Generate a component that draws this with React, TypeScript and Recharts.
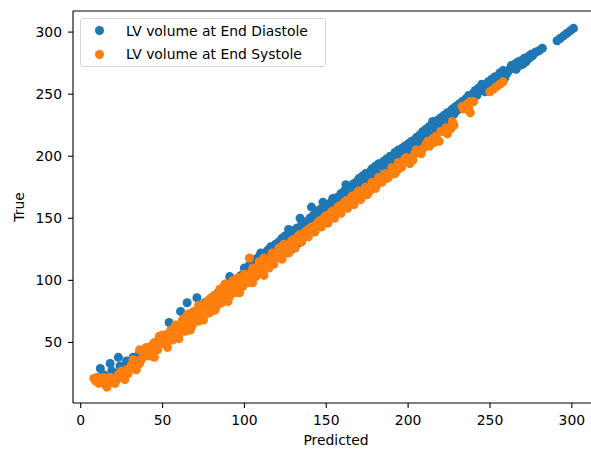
import { Legend, ReferenceLine, Scatter, ScatterChart, XAxis, YAxis, ZAxis } from "recharts";

const FONT = "DejaVu Sans";

const seriesNames = ["LV volume at End Diastole", "LV volume at End Systole"];
const seriesColors = ["#1f77b4", "#ff7f0e"];

const xTicks = [0, 50, 100, 150, 200, 250, 300];
const yTicks = [50, 100, 150, 200, 250, 300];
const xDomain = [-4.7, 316.6];
const yDomain = [1.2, 317];

// [predicted, true]
const diastolePoints: [number, number][] = [
  [12, 29], [14, 24], [16, 22], [18, 33], [19, 27], [21, 25], [23, 38], [24, 31], [26, 29], [28, 35],
  [30, 33], [32, 38], [34, 36], [36, 42], [38, 40], [40, 45], [42, 43], [44, 48], [46, 47], [48, 52],
  [50, 51], [52, 56], [54, 66], [55, 58], [57, 60], [59, 63], [61, 75], [62, 65], [64, 68], [65, 82],
  [66, 70], [68, 72], [70, 75], [71, 86], [72, 77], [74, 80], [76, 82], [78, 83], [80, 86], [82, 88],
  [84, 90], [86, 92], [88, 95], [90, 97], [91, 103], [92, 99], [94, 100], [96, 101], [98, 104], [100, 106],
  [102, 108], [104, 110], [106, 112], [108, 114], [110, 122], [111, 116], [113, 118], [115, 120], [116, 127], [118, 124],
  [120, 125], [122, 129], [124, 130], [126, 122], [127, 141], [128, 132], [130, 134], [131, 127], [133, 137], [134, 150],
  [136, 140], [137, 144], [139, 146], [141, 159], [143, 148], [145, 150], [147, 153], [148, 163], [150, 155], [152, 157],
  [154, 166], [156, 160], [158, 162], [160, 164], [162, 177], [164, 168], [166, 170], [169, 180], [171, 176], [173, 178],
  [175, 181], [177, 188], [179, 184], [181, 186], [184, 192], [186, 190], [188, 193], [191, 198], [193, 196], [195, 200],
  [197, 207], [199, 203], [201, 205], [204, 210], [206, 211], [208, 213], [210, 218], [212, 216], [215, 228], [217, 222],
  [219, 225], [221, 227], [223, 230], [226, 236], [228, 234], [230, 237], [232, 240], [234, 242], [236, 245], [238, 247],
  [240, 251], [242, 249], [244, 253], [246, 254], [248, 257], [250, 256], [252, 259], [255, 262], [257, 265], [259, 263],
  [261, 268], [264, 271], [266, 270], [268, 273], [270, 274], [272, 276], [274, 279], [276, 281], [277, 283], [280, 285],
  [282, 287], [291, 293], [293, 295], [295, 297], [297, 299], [299, 301], [301, 303],
  [100, 110], [103, 112], [105, 115], [107, 117], [109, 119], [112, 121], [114, 124], [117, 126], [119, 129], [121, 131],
  [123, 134], [125, 136], [126, 128], [128, 138], [129, 125], [130, 140], [132, 142], [133, 130], [135, 145], [137, 147],
  [138, 136], [140, 150], [142, 152], [144, 155], [146, 157], [147, 145], [149, 159], [151, 161], [153, 163], [155, 165],
  [157, 167], [159, 170], [161, 172], [163, 174], [165, 176], [167, 178], [168, 173], [170, 182], [172, 184], [174, 186],
  [176, 184], [178, 190], [180, 192], [182, 194], [185, 196], [187, 198], [189, 200], [190, 191], [192, 203], [194, 205],
  [196, 206], [198, 208], [200, 210], [202, 212], [203, 206], [205, 215], [207, 217], [209, 220], [211, 222], [213, 224],
  [214, 217], [216, 226], [218, 229], [220, 231], [222, 233], [224, 235], [225, 229], [227, 238], [229, 240], [231, 242],
  [233, 244], [235, 246], [237, 249], [239, 245], [241, 253], [243, 255], [245, 258], [247, 252], [249, 260], [251, 262],
  [253, 264], [254, 258], [256, 267], [258, 269], [260, 266], [262, 270], [263, 273], [265, 274], [267, 276], [269, 277],
  [271, 279], [273, 280], [275, 282], [278, 284],
];

const systolePoints: [number, number][] = [
  [8, 21], [9, 19], [10, 22], [12, 20], [13, 18], [15, 16], [16, 14], [17, 19], [18, 22], [19, 18],
  [20, 21], [22, 20], [23, 24], [24, 22], [26, 26], [27, 24], [28, 28], [30, 29], [31, 32], [33, 31],
  [34, 35], [35, 33], [36, 44], [37, 36], [38, 38], [40, 46], [41, 40], [42, 42], [43, 47], [44, 44],
  [46, 45], [47, 49], [48, 55], [49, 50], [50, 52], [51, 49], [53, 54], [54, 57], [55, 53], [57, 58],
  [58, 61], [59, 57], [61, 62], [62, 60], [63, 66], [64, 63], [65, 72], [66, 67], [67, 64], [68, 70],
  [70, 71], [71, 68], [72, 80], [73, 74], [74, 72], [75, 78], [76, 81], [77, 76], [78, 79], [79, 85],
  [80, 82], [81, 78], [82, 88], [83, 84], [84, 81], [85, 90], [86, 87], [87, 85], [88, 97], [89, 91],
  [90, 88], [91, 96], [92, 94], [93, 91], [94, 98], [95, 95], [97, 100], [98, 96], [100, 99], [101, 103],
  [102, 98], [103, 118], [104, 106], [106, 104], [107, 109], [108, 106], [110, 112], [111, 110], [113, 115], [114, 112],
  [116, 118], [117, 116], [119, 121], [120, 118], [122, 124], [123, 121], [125, 127], [126, 124], [128, 130], [130, 133],
  [132, 131], [134, 137], [136, 135], [138, 140], [140, 142], [142, 141], [144, 145], [146, 148], [148, 147], [150, 152],
  [152, 150], [154, 156], [156, 155], [158, 160], [160, 158], [162, 164], [164, 162], [166, 168], [168, 166], [170, 172],
  [172, 169], [175, 169], [177, 175], [179, 178], [181, 177], [183, 181], [185, 184], [187, 182], [189, 186], [191, 190],
  [193, 188], [195, 194], [198, 198], [200, 196], [203, 197], [204, 202], [207, 204], [209, 206], [211, 210], [213, 208],
  [215, 214], [217, 216], [219, 212], [222, 220], [224, 218], [226, 222], [227, 228], [233, 240], [236, 242], [238, 235],
  [238, 244], [240, 244], [250, 252], [252, 254], [254, 256], [256, 258], [258, 260],
  [11, 17], [14, 22], [21, 17], [25, 27], [29, 25], [32, 36], [36, 33], [39, 43], [42, 39], [45, 50],
  [47, 44], [50, 56], [52, 48], [55, 60], [56, 52], [58, 64], [60, 57], [62, 68], [64, 59], [66, 73],
  [68, 63], [69, 75], [72, 67], [74, 79], [76, 72], [78, 84], [79, 74], [81, 87], [83, 79], [85, 93],
  [86, 82], [88, 90], [89, 97], [91, 87], [93, 100], [95, 90], [96, 102], [99, 95], [100, 105], [103, 100],
  [105, 110], [107, 103], [109, 115], [111, 106], [112, 118], [115, 110], [117, 122], [118, 113], [121, 126], [123, 117],
  [124, 129], [127, 122], [129, 132], [131, 126], [133, 136], [135, 131], [137, 139], [139, 135], [141, 143], [143, 139],
  [145, 147], [147, 143], [149, 151], [151, 146], [153, 155], [155, 150], [157, 159], [159, 154], [161, 163], [163, 158],
  [165, 167], [167, 161], [169, 171], [171, 165], [174, 175], [176, 171], [178, 179], [180, 174], [182, 183], [184, 179],
  [186, 186], [188, 183], [190, 191], [192, 186], [194, 195], [196, 191], [199, 199], [201, 194], [205, 205], [208, 202],
  [212, 212], [216, 211], [220, 220], [223, 223], [228, 225], [234, 238], [237, 239],
  [27, 20], [34, 28], [45, 38], [53, 46], [60, 53], [67, 60], [75, 68], [82, 76], [90, 83], [97, 90],
  [105, 98], [112, 104],
];

const toRows = (pts: [number, number][]) => pts.map(([x, y]) => ({ x, y }));

const tickStyle = { fontSize: 13.9, fontFamily: FONT, fill: "#000" };
const lineStyle = { stroke: "#000", strokeWidth: 1.1 };

function LegendBox() {
  return (
    <div
      style={{
        width: 246,
        height: 49,
        boxSizing: "border-box",
        border: "1px solid #d6d6d6",
        borderRadius: 3,
        background: "rgba(255,255,255,0.8)",
        position: "relative",
        fontFamily: FONT,
        fontSize: 13.9,
        color: "#000",
      }}
    >
      {seriesNames.map((name, i) => (
        <div
          key={name}
          style={{ position: "absolute", left: 0, top: 1.7 + i * 23.3, height: 20, display: "flex", alignItems: "center", whiteSpace: "nowrap" }}
        >
          <span
            style={{ display: "inline-block", width: 9, height: 9, borderRadius: "50%", background: seriesColors[i], marginLeft: 14, marginRight: 22 }}
          />
          <span>{name}</span>
        </div>
      ))}
    </div>
  );
}

function YTitle(props: any) {
  const vb = props.viewBox;
  const cx = 18.5;
  const cy = vb ? vb.y + vb.height / 2 : 207;
  return (
    <text x={cx} y={cy} transform={`rotate(-90 ${cx} ${cy})`} textAnchor="middle" dominantBaseline="central" fontSize={13.9} fontFamily={FONT} fill="#000">
      True
    </text>
  );
}

export default function App() {
  return (
    <div style={{ position: "absolute", left: 0, top: 0, width: 591, height: 449, overflow: "hidden", background: "#fff" }}>
      <ScatterChart width={600} height={449} margin={{ top: 11, right: 1, bottom: 0, left: 0 }}>
        <XAxis
          type="number"
          dataKey="x"
          domain={xDomain}
          ticks={xTicks}
          allowDataOverflow
          height={46}
          tick={tickStyle}
          tickSize={5}
          tickMargin={7}
          axisLine={lineStyle}
          tickLine={lineStyle}
          label={{ value: "Predicted", position: "insideBottom", offset: 4.5, fill: "#000", fontSize: 13.9, fontFamily: FONT }}
        />
        <YAxis
          type="number"
          dataKey="y"
          domain={yDomain}
          ticks={yTicks}
          allowDataOverflow
          width={73}
          tick={tickStyle}
          tickSize={5}
          tickMargin={6}
          axisLine={lineStyle}
          tickLine={lineStyle}
          label={<YTitle />}
        />
        <ZAxis range={[76, 76]} />
        <ReferenceLine y={yDomain[1]} stroke="#000" strokeWidth={1.1} />
        <Scatter name={seriesNames[0]} data={toRows(diastolePoints)} fill={seriesColors[0]} isAnimationActive={false} />
        <Scatter name={seriesNames[1]} data={toRows(systolePoints)} fill={seriesColors[1]} isAnimationActive={false} />
        <Legend
          layout="vertical"
          align="center"
          verticalAlign="middle"
          wrapperStyle={{ top: 18, left: 80, width: 246 }}
          content={() => <LegendBox />}
        />
      </ScatterChart>
    </div>
  );
}
